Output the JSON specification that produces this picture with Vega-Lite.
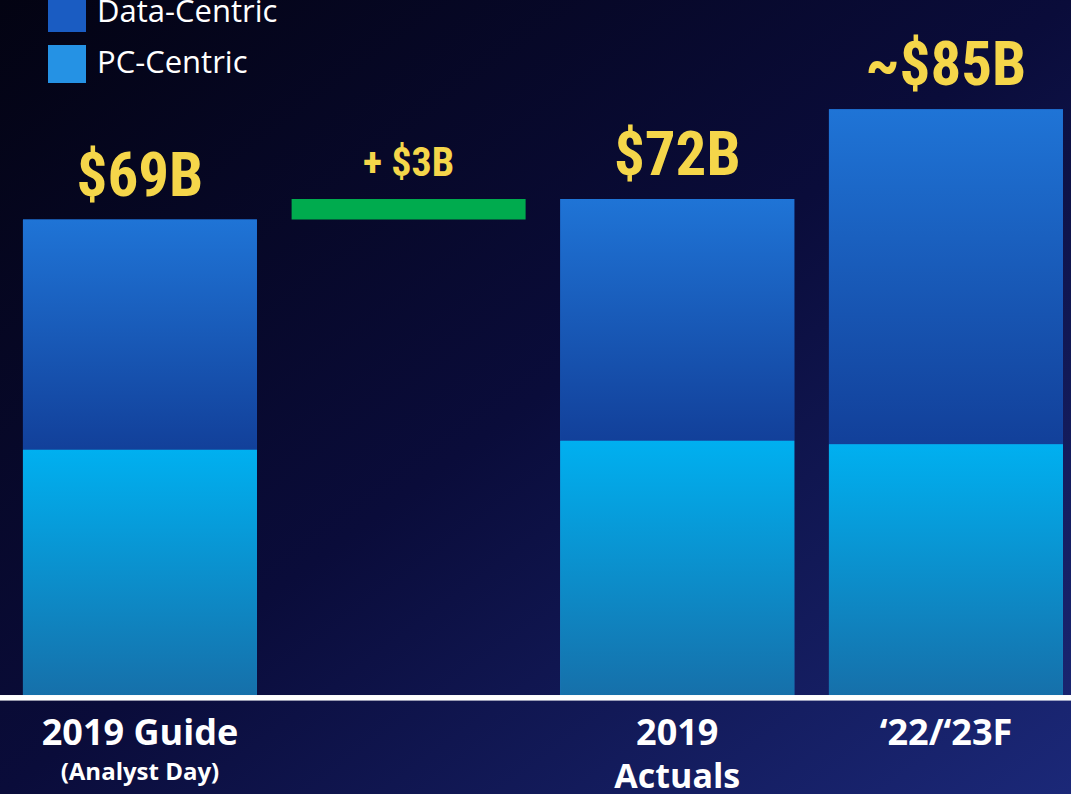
{
  "$schema": "https://vega.github.io/schema/vega-lite/v6.json",
  "width": 1071,
  "height": 794,
  "autosize": "none",
  "padding": 0,
  "background": "#0b0d3c",
  "config": {
    "view": {
      "stroke": null,
      "fill": {"gradient": "linear", "x1": 0, "y1": 0, "x2": 1, "y2": 1,
        "stops": [{"offset": 0, "color": "#030312"}, {"offset": 0.5, "color": "#0a0c3a"}, {"offset": 1, "color": "#1b2878"}]}
    }
  },
  "datasets": {
    "bars": [
      {"cat": "2019 Guide", "segment": "PC-Centric", "start": 0, "end": 35.6},
      {"cat": "2019 Guide", "segment": "Data-Centric", "start": 35.6, "end": 69},
      {"cat": "2019 Actuals", "segment": "PC-Centric", "start": 0, "end": 36.9},
      {"cat": "2019 Actuals", "segment": "Data-Centric", "start": 36.9, "end": 72},
      {"cat": "'22/'23F", "segment": "PC-Centric", "start": 0, "end": 36.4},
      {"cat": "'22/'23F", "segment": "Data-Centric", "start": 36.4, "end": 85}
    ],
    "increase": [{"cat": "+$3B", "start": 69, "end": 72, "label": "+ $3B"}],
    "totals": [
      {"cat": "2019 Guide", "total": 69, "label": "$69B", "line1": "2019 Guide", "line2": "(Analyst Day)"},
      {"cat": "2019 Actuals", "total": 72, "label": "$72B", "line1": "2019", "line2": "Actuals"},
      {"cat": "'22/'23F", "total": 85, "label": "~$85B", "line1": "\u201822/\u201823F", "line2": ""}
    ]
  },
  "layer": [
    {
      "data": {"name": "bars"},
      "mark": {"type": "bar", "strokeWidth": 0},
      "encoding": {
        "x": {"field": "cat", "type": "nominal", "axis": null,
          "scale": {"domain": ["2019 Guide", "+$3B", "2019 Actuals", "'22/'23F"], "paddingInner": 0.129, "paddingOuter": 0.0577, "align": 0.74}},
        "y": {"field": "start", "type": "quantitative", "axis": null,
          "scale": {"domain": [-14.37, 100.87], "nice": false, "zero": false}},
        "y2": {"field": "end"},
        "color": {"field": "segment", "type": "nominal",
          "scale": {"domain": ["Data-Centric", "PC-Centric"], "range": ["#1a5cc2", "#2592e4"]},
          "legend": {"orient": "none", "legendX": 48, "legendY": -6, "title": null, "padding": 0,
            "symbolType": "square", "symbolSize": 1444, "symbolStrokeWidth": 0, "symbolOpacity": 1,
            "labelFontSize": 31, "labelColor": "#ffffff", "labelFont": "Open Sans", "labelOffset": 11,
            "rowPadding": 13, "labelLimit": 400}}
      }
    },
    {
      "data": {"name": "bars"},
      "transform": [{"filter": "datum.segment === 'Data-Centric'"}],
      "mark": {"type": "bar", "strokeWidth": 0,
        "color": {"gradient": "linear", "x1": 0, "y1": 0, "x2": 0, "y2": 1, "stops": [{"offset": 0, "color": "#1f74d6"}, {"offset": 1, "color": "#12409a"}]}},
      "encoding": {
        "x": {"field": "cat", "type": "nominal"},
        "y": {"field": "start", "type": "quantitative"},
        "y2": {"field": "end"}
      }
    },
    {
      "data": {"name": "bars"},
      "transform": [{"filter": "datum.segment === 'PC-Centric'"}],
      "mark": {"type": "bar", "strokeWidth": 0,
        "color": {"gradient": "linear", "x1": 0, "y1": 0, "x2": 0, "y2": 1, "stops": [{"offset": 0, "color": "#00b0f0"}, {"offset": 1, "color": "#1670aa"}]}},
      "encoding": {
        "x": {"field": "cat", "type": "nominal"},
        "y": {"field": "start", "type": "quantitative"},
        "y2": {"field": "end"}
      }
    },
    {
      "data": {"name": "increase"},
      "mark": {"type": "bar", "color": "#00ab4e", "strokeWidth": 0},
      "encoding": {
        "x": {"field": "cat", "type": "nominal"},
        "y": {"field": "start", "type": "quantitative"},
        "y2": {"field": "end"}
      }
    },
    {
      "data": {"name": "increase"},
      "mark": {"type": "text", "color": "#f5d64a", "font": "Roboto Condensed, DejaVu Sans Condensed, sans-serif", "fontWeight": "bold", "fontSize": 40, "baseline": "alphabetic", "dy": -23},
      "encoding": {
        "x": {"field": "cat", "type": "nominal"},
        "y": {"field": "end", "type": "quantitative"},
        "text": {"field": "label"}
      }
    },
    {
      "data": {"name": "totals"},
      "mark": {"type": "text", "color": "#f5d64a", "font": "Roboto Condensed, DejaVu Sans Condensed, sans-serif", "fontWeight": "bold", "fontSize": 61, "baseline": "alphabetic", "dy": -24},
      "encoding": {
        "x": {"field": "cat", "type": "nominal"},
        "y": {"field": "total", "type": "quantitative"},
        "text": {"field": "label"}
      }
    },
    {
      "data": {"name": "totals"},
      "mark": {"type": "rule", "color": "#ffffff", "strokeWidth": 5},
      "encoding": {"y": {"datum": -0.4}}
    },
    {
      "data": {"name": "totals"},
      "mark": {"type": "text", "color": "#ffffff", "font": "Open Sans", "fontWeight": "bold", "fontSize": 36, "baseline": "middle"},
      "encoding": {
        "x": {"field": "cat", "type": "nominal"},
        "y": {"datum": -5.66},
        "text": {"field": "line1"}
      }
    },
    {
      "data": {"name": "totals"},
      "transform": [{"filter": "datum.cat === '2019 Guide'"}],
      "mark": {"type": "text", "color": "#ffffff", "font": "Open Sans", "fontWeight": "bold", "fontSize": 24, "baseline": "middle"},
      "encoding": {
        "x": {"field": "cat", "type": "nominal"},
        "y": {"datum": -11.3},
        "text": {"field": "line2"}
      }
    },
    {
      "data": {"name": "totals"},
      "transform": [{"filter": "datum.cat === '2019 Actuals'"}],
      "mark": {"type": "text", "color": "#ffffff", "font": "Open Sans", "fontWeight": "bold", "fontSize": 34, "baseline": "middle"},
      "encoding": {
        "x": {"field": "cat", "type": "nominal"},
        "y": {"datum": -12.0},
        "text": {"field": "line2"}
      }
    }
  ]
}
